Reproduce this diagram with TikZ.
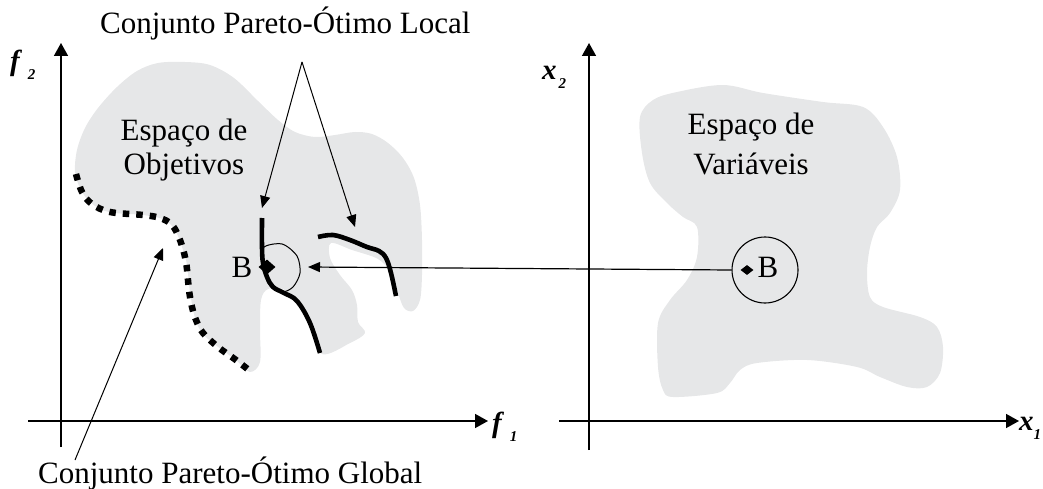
\documentclass[tikz,border=0pt]{standalone}
\usepackage{fontspec}
\setmainfont{Liberation Serif}
\usetikzlibrary{arrows.meta,shapes.geometric}
\definecolor{blobgray}{RGB}{230,231,232}
\newcommand{\axsubf}[1]{\hspace{8pt}\raisebox{-9pt}{\fontsize{15}{16}\selectfont #1}}
\newcommand{\axsubx}[1]{\hspace{2pt}\raisebox{-9pt}{\fontsize{15}{16}\selectfont #1}}
\begin{document}
\begin{tikzpicture}[x=1pt,y=-1pt,
  axis/.style={line width=1.5pt,-{Triangle[length=13pt,width=14pt]}},
  thinarrow/.style={line width=1pt,-{Triangle[length=12pt,width=10pt]}},
  pareto/.style={line width=4.6pt},
  dotpareto/.style={line width=6.5pt,dash pattern=on 6.5pt off 7pt},
  blob/.style={fill=blobgray,draw=none},
  bigtext/.style={font=\fontsize{31}{34}\selectfont,inner sep=0pt},
  axlabel/.style={font=\fontsize{29}{30}\selectfont\bfseries\itshape,inner sep=0pt,anchor=base west},
  marker/.style={diamond,fill=black,inner sep=0pt}
]
\useasboundingbox (0,0) rectangle (1043,489);

% gray regions
\fill[blob] plot[smooth cycle,tension=0.55] coordinates {
 (75,172) (77,150) (85,128) (98,108) (117,87) (137,71) (158,63) (185,62) (210,65) (234,78) (258,101)
 (278,120) (295,132) (315,137) (335,135) (355,132) (372,134) (388,143) (403,158) (414,178) (420,205)
 (422,240) (422,275) (420,300) (413,311) (404,308) (398,293) (391,273) (378,259) (352,250) (331,243)
 (330,258) (340,275) (352,290) (357,305) (358,322) (365,333) (350,343) (322,354) (310,325) (297,302)
 (283,289) (268,289) (261,300) (260,330) (260,362) (250,372) (237,361) (225,352) (213,343) (202,333)
 (195,318) (190,292) (187,265) (183,250) (176,232) (165,220) (143,215) (115,213) (100,209) (88,200) (80,188)};
\fill[blob] plot[smooth cycle,tension=0.55] coordinates {
 (640,117) (653,100) (677,92) (723,85) (763,93) (823,102) (863,107) (883,127) (897,157) (900,190)
 (890,213) (877,227) (870,247) (867,273) (870,297) (883,307) (920,317) (937,327) (943,347) (940,373)
 (927,387) (907,387) (880,377) (857,367) (807,360) (757,363) (740,370) (730,383) (717,393) (673,397)
 (663,390) (658,367) (658,323) (670,300) (687,280) (697,257) (697,227) (683,217) (667,203) (650,183) (642,153)};

% axes
\coordinate (ly0) at (61,447);  \coordinate (ly1) at (61,43);
\coordinate (lx0) at (28,421);  \coordinate (lx1) at (488,421);
\coordinate (ry0) at (589,450); \coordinate (ry1) at (589,43);
\coordinate (rx0) at (559,421); \coordinate (rx1) at (1019,421);
\draw[axis] (ly0) -- (ly1);
\draw[axis] (lx0) -- (lx1);
\draw[axis] (ry0) -- (ry1);
\draw[axis] (rx0) -- (rx1);

\node[axlabel] (f2) at (10,71) {f\axsubf{2}};
\node[axlabel] (f1) at (492,432) {f\axsubf{1}};
\node[axlabel] (x2) at (542,80) {x\axsubx{2}};
\node[axlabel] (x1) at (1019,430) {x\hspace{0pt}\raisebox{-9pt}{\fontsize{15}{16}\selectfont 1}};

% global Pareto front (dotted)
\draw[dotpareto] plot[smooth,tension=0.6] coordinates {
 (76,174) (82,192) (92,204) (110,212) (143,215) (160,218) (172,225) (180,240) (186,262) (189,290)
 (192,307) (196,320) (203,333) (218,347) (236,360) (250,371)};

% local B neighbourhood
\draw[line width=1pt] plot[smooth cycle] coordinates {
 (263,248) (282,244) (297,256) (300,273) (293,287) (282,292) (270,286) (264,268)};

% local Pareto fronts
\draw[pareto] plot[smooth,tension=0.6] coordinates {
 (262,218) (262,247) (263,263) (267,277) (273,287) (284,293) (297,301) (310,323) (320,353)};
\draw[pareto] plot[smooth,tension=0.6] coordinates {
 (318,237) (333,235) (350,240) (367,247) (379,251) (386,258) (391,273) (396,296)};

\node[marker,minimum width=17pt,minimum height=15pt] (bl) at (267,267) {};
\node[bigtext] (blabel) at (242,267) {B};

% variable space B
\node[circle,draw,line width=1.1pt,minimum size=66pt,inner sep=0pt] (rc) at (765,270) {};
\node[marker,minimum width=13pt,minimum height=10pt] (br) at (747,270) {};
\node[bigtext] (brlabel) at (768,267) {B};
\coordinate (lctip) at (308,267);
\draw[thinarrow,line width=1.2pt] (rc.west) -- (lctip);

% texts
\node[bigtext,anchor=base] (eo1) at (184,141) {Espaço de};
\node[bigtext,anchor=base] (eo2) at (184,175) {Objetivos};
\node[bigtext,anchor=base] (ev1) at (751,135) {Espaço de};
\node[bigtext,anchor=base] (ev2) at (751,175) {Variáveis};

\node[bigtext,anchor=base west] (loc) at (100,34) {Conjunto Pareto-Ótimo Local};
\node[bigtext,anchor=base west] (glob) at (38,483) {Conjunto Pareto-Ótimo Global};

% label arrows
\coordinate (apex) at (302,62);
\coordinate (tipA) at (262,208);
\coordinate (tipB) at (355,227);
\draw[thinarrow] (apex) -- (tipA);
\draw[thinarrow] (apex) -- (tipB);
\coordinate (gstart) at (75,460);
\coordinate (gtip) at (163,248);
\draw[thinarrow] (gstart) -- (gtip);
\end{tikzpicture}
\end{document}
